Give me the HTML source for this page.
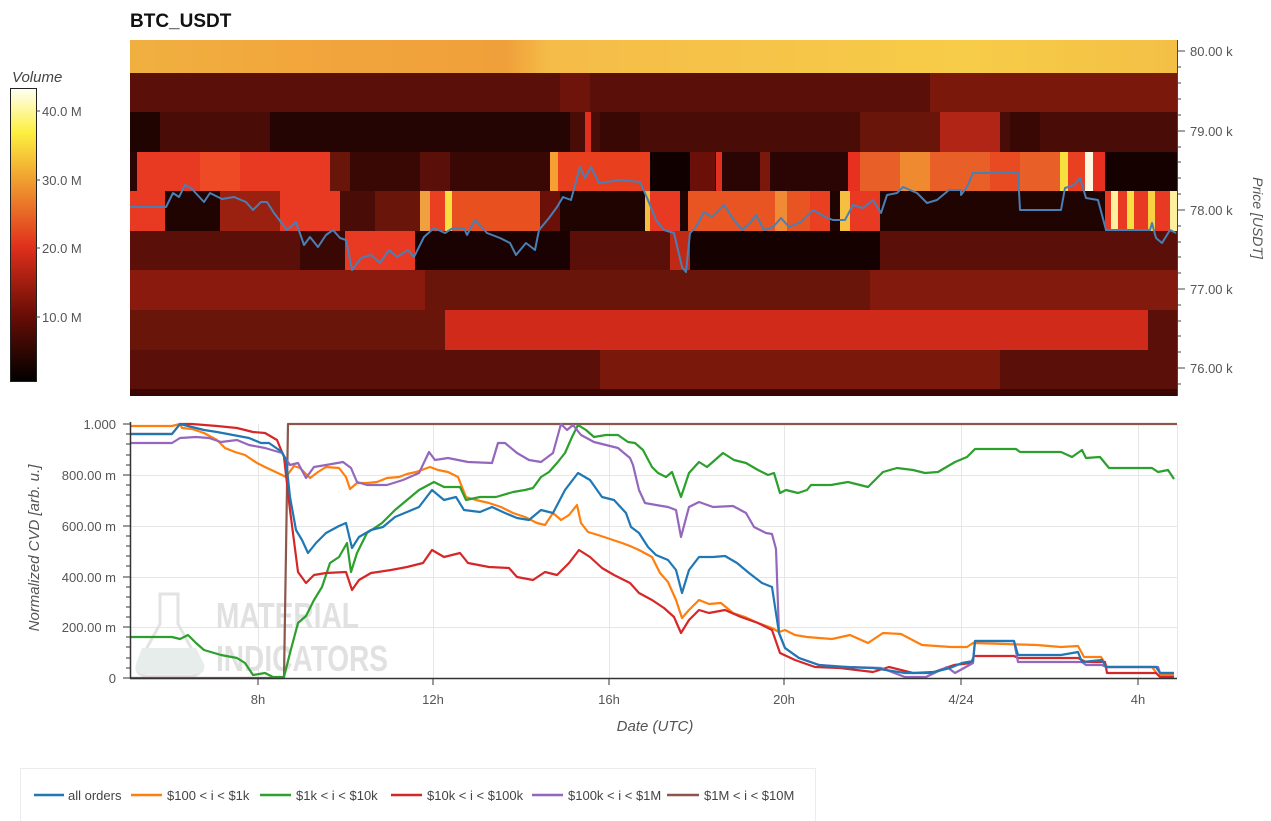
<!DOCTYPE html>
<html><head><meta charset="utf-8"><style>
html,body{margin:0;padding:0;background:#fff;}
svg{display:block;font-family:"Liberation Sans",sans-serif;}
</style></head><body>
<svg width="1271" height="821" viewBox="0 0 1271 821" xmlns="http://www.w3.org/2000/svg">
<defs>
<linearGradient id="cb" x1="0" y1="1" x2="0" y2="0">
<stop offset="0" stop-color="#000"/>
<stop offset="0.23" stop-color="#6a0e06"/>
<stop offset="0.46" stop-color="#e0301c"/>
<stop offset="0.69" stop-color="#f0a030"/>
<stop offset="0.85" stop-color="#fcf040"/>
<stop offset="1" stop-color="#fffff5"/>
</linearGradient>
<linearGradient id="b0" x1="0" y1="0" x2="1" y2="0">
<stop offset="0" stop-color="#f0b040"/>
<stop offset="0.18" stop-color="#f2a53c"/>
<stop offset="0.36" stop-color="#f0a03a"/>
<stop offset="0.4" stop-color="#f5bc48"/>
<stop offset="0.8" stop-color="#f7cc48"/>
<stop offset="1" stop-color="#f3c045"/>
</linearGradient>
</defs>
<text x="130" y="27" font-size="19" font-weight="bold" fill="#111">BTC_USDT</text>

<!-- heatmap -->
<rect x="130" y="40" width="1047" height="33" fill="url(#b0)"/>
<rect x="130" y="73" width="1047" height="39" fill="#5a0f08"/>
<rect x="930" y="73" width="247" height="39" fill="#7a180c"/>
<rect x="560" y="73" width="30" height="39" fill="#6e140a"/>
<rect x="130" y="112" width="1047" height="40" fill="#4a0c06"/>
<rect x="130" y="112" width="30" height="40" fill="#200402"/>
<rect x="270" y="112" width="300" height="40" fill="#250503"/>
<rect x="585" y="112" width="6" height="40" fill="#e03020"/>
<rect x="600" y="112" width="40" height="40" fill="#3a0804"/>
<rect x="860" y="112" width="80" height="40" fill="#6a150a"/>
<rect x="940" y="112" width="60" height="40" fill="#b02515"/>
<rect x="1010" y="112" width="30" height="40" fill="#3a0804"/>
<rect x="130" y="152" width="1047" height="39" fill="#2a0503"/>
<rect x="137" y="152" width="193" height="39" fill="#e83a22"/>
<rect x="200" y="152" width="40" height="39" fill="#ee4a26"/>
<rect x="330" y="152" width="20" height="39" fill="#6a150a"/>
<rect x="350" y="152" width="200" height="39" fill="#3a0804"/>
<rect x="420" y="152" width="30" height="39" fill="#5a0f08"/>
<rect x="550" y="152" width="8" height="39" fill="#f5a030"/>
<rect x="558" y="152" width="92" height="39" fill="#e8401e"/>
<rect x="650" y="152" width="40" height="39" fill="#100000"/>
<rect x="690" y="152" width="25" height="39" fill="#6a1008"/>
<rect x="716" y="152" width="6" height="39" fill="#e03020"/>
<rect x="760" y="152" width="10" height="39" fill="#7a180c"/>
<rect x="848" y="152" width="12" height="39" fill="#e83020"/>
<rect x="860" y="152" width="200" height="39" fill="#e86028"/>
<rect x="900" y="152" width="30" height="39" fill="#f08a30"/>
<rect x="990" y="152" width="30" height="39" fill="#e84a22"/>
<rect x="1060" y="152" width="8" height="39" fill="#f8e040"/>
<rect x="1068" y="152" width="17" height="39" fill="#e84020"/>
<rect x="1085" y="152" width="8" height="39" fill="#fff8e0"/>
<rect x="1093" y="152" width="12" height="39" fill="#e83020"/>
<rect x="1105" y="152" width="72" height="39" fill="#150200"/>
<rect x="130" y="191" width="1047" height="40" fill="#200402"/>
<rect x="130" y="191" width="35" height="40" fill="#e83a22"/>
<rect x="220" y="191" width="60" height="40" fill="#9a2010"/>
<rect x="280" y="191" width="60" height="40" fill="#e83a22"/>
<rect x="340" y="191" width="35" height="40" fill="#4a0c06"/>
<rect x="375" y="191" width="45" height="40" fill="#6a150a"/>
<rect x="420" y="191" width="10" height="40" fill="#f0a040"/>
<rect x="430" y="191" width="15" height="40" fill="#e84020"/>
<rect x="445" y="191" width="7" height="40" fill="#f8e040"/>
<rect x="452" y="191" width="88" height="40" fill="#e8501f"/>
<rect x="540" y="191" width="20" height="40" fill="#6a1008"/>
<rect x="645" y="191" width="5" height="40" fill="#f0c040"/>
<rect x="650" y="191" width="30" height="40" fill="#e83a22"/>
<rect x="688" y="191" width="122" height="40" fill="#e85522"/>
<rect x="775" y="191" width="12" height="40" fill="#f08a34"/>
<rect x="810" y="191" width="20" height="40" fill="#e84020"/>
<rect x="840" y="191" width="10" height="40" fill="#f5c040"/>
<rect x="850" y="191" width="30" height="40" fill="#e83a22"/>
<rect x="1105" y="191" width="72" height="40" fill="#e83a22"/>
<rect x="1111" y="191" width="7" height="40" fill="#fff0a0"/>
<rect x="1127" y="191" width="7" height="40" fill="#f8e040"/>
<rect x="1148" y="191" width="7" height="40" fill="#f8d040"/>
<rect x="1170" y="191" width="7" height="40" fill="#fff0a0"/>
<rect x="130" y="231" width="1047" height="39" fill="#5a0f08"/>
<rect x="300" y="231" width="45" height="39" fill="#3a0804"/>
<rect x="345" y="231" width="70" height="39" fill="#e83a22"/>
<rect x="415" y="231" width="155" height="39" fill="#1a0202"/>
<rect x="670" y="231" width="20" height="39" fill="#c02a15"/>
<rect x="690" y="231" width="190" height="39" fill="#150100"/>
<rect x="130" y="270" width="1047" height="40" fill="#6a150a"/>
<rect x="130" y="270" width="295" height="40" fill="#8a1a0e"/>
<rect x="870" y="270" width="307" height="40" fill="#821a0e"/>
<rect x="130" y="310" width="1047" height="40" fill="#6a150a"/>
<rect x="445" y="310" width="703" height="40" fill="#d02a1a"/>
<rect x="1148" y="310" width="29" height="40" fill="#5a0f08"/>
<rect x="130" y="350" width="1047" height="39" fill="#5a0f08"/>
<rect x="600" y="350" width="400" height="39" fill="#7a180c"/>
<rect x="130" y="389" width="1047" height="7" fill="#3a0603"/>

<polyline fill="none" stroke="#4a7fb5" stroke-width="2" stroke-linejoin="round" points="130,207 166,207 173,193 179,197 185,185 191,188 204,202 210,193 222,199 234,197 246,202 253,210 261,202 267,202 274,213 287,230 296,222 304,245 310,237 318,247 326,235 333,230 340,238 346,240 352,270 361,258 371,255 380,263 389,250 397,257 408,250 414,257 424,237 434,228 445,233 453,228 464,228 467,235 475,220 487,233 500,238 510,243 516,255 526,243 535,250 539,230 549,218 557,207 563,197 571,200 580,167 585,178 591,167 599,183 607,182 620,180 640,182 648,200 656,220 664,230 674,233 682,267 686,272 690,233 696,227 704,212 712,217 724,205 734,220 742,230 750,223 756,215 764,230 773,227 781,218 789,227 801,222 813,210 825,217 833,220 845,220 853,205 863,208 873,200 881,213 887,195 897,193 903,187 917,193 927,203 937,200 949,190 961,190 961,195 967,187 973,173 1018,173 1020,210 1061,210 1065,188 1074,185 1080,178 1086,198 1098,200 1106,230 1150,230 1152,223 1156,238 1162,243 1170,230 1176,233"/>

<line x1="1177.5" y1="40" x2="1177.5" y2="396" stroke="#444" stroke-width="1"/>
<g stroke="#444" stroke-width="1">
<line x1="1177" y1="51" x2="1185" y2="51"/><line x1="1177" y1="131" x2="1185" y2="131"/><line x1="1177" y1="210" x2="1185" y2="210"/><line x1="1177" y1="289" x2="1185" y2="289"/><line x1="1177" y1="368" x2="1185" y2="368"/>
<line x1="1177" y1="67" x2="1181" y2="67"/><line x1="1177" y1="83" x2="1181" y2="83"/><line x1="1177" y1="99" x2="1181" y2="99"/><line x1="1177" y1="115" x2="1181" y2="115"/>
<line x1="1177" y1="147" x2="1181" y2="147"/><line x1="1177" y1="162" x2="1181" y2="162"/><line x1="1177" y1="178" x2="1181" y2="178"/><line x1="1177" y1="194" x2="1181" y2="194"/>
<line x1="1177" y1="226" x2="1181" y2="226"/><line x1="1177" y1="242" x2="1181" y2="242"/><line x1="1177" y1="257" x2="1181" y2="257"/><line x1="1177" y1="273" x2="1181" y2="273"/>
<line x1="1177" y1="305" x2="1181" y2="305"/><line x1="1177" y1="321" x2="1181" y2="321"/><line x1="1177" y1="336" x2="1181" y2="336"/><line x1="1177" y1="352" x2="1181" y2="352"/>
<line x1="1177" y1="384" x2="1181" y2="384"/>
</g>
<g font-size="13" fill="#555">
<text x="1190" y="56">80.00 k</text><text x="1190" y="136">79.00 k</text><text x="1190" y="215">78.00 k</text><text x="1190" y="294">77.00 k</text><text x="1190" y="373">76.00 k</text>
</g>
<text transform="translate(1253,218) rotate(90)" text-anchor="middle" font-size="14" font-style="italic" fill="#555">Price [USDT]</text>

<text x="12" y="82" font-size="15" font-style="italic" fill="#444">Volume</text>
<rect x="10.5" y="88.5" width="26" height="293" fill="url(#cb)" stroke="#222" stroke-width="1"/>
<g stroke="#444"><line x1="36" y1="111" x2="40" y2="111"/><line x1="36" y1="180" x2="40" y2="180"/><line x1="36" y1="248" x2="40" y2="248"/><line x1="36" y1="317" x2="40" y2="317"/></g>
<g font-size="13" fill="#555"><text x="42" y="116">40.0 M</text><text x="42" y="185">30.0 M</text><text x="42" y="253">20.0 M</text><text x="42" y="322">10.0 M</text></g>

<g stroke="#e6e6e6" stroke-width="1">
<line x1="130" y1="475.5" x2="1177" y2="475.5"/><line x1="130" y1="526.5" x2="1177" y2="526.5"/><line x1="130" y1="577.5" x2="1177" y2="577.5"/><line x1="130" y1="627.5" x2="1177" y2="627.5"/>
<line x1="258.5" y1="424" x2="258.5" y2="678"/><line x1="433.5" y1="424" x2="433.5" y2="678"/><line x1="609.5" y1="424" x2="609.5" y2="678"/><line x1="784.5" y1="424" x2="784.5" y2="678"/><line x1="961.5" y1="424" x2="961.5" y2="678"/><line x1="1138.5" y1="424" x2="1138.5" y2="678"/>
<line x1="1177.5" y1="424" x2="1177.5" y2="678"/>
</g>
<g fill="#dedede" opacity="0.9">
<path d="M160 594 h18 v30 l22 40 q4 10 -8 12 h-46 q-12 -2 -8 -12 l22 -40 z" fill="none" stroke="#e0e0e0" stroke-width="3"/>
<path d="M142 648 h54 l8 16 q2 10 -8 10 h-52 q-10 0 -8 -10 z" fill="#e4ece8"/>
<text x="216" y="628" font-size="36" font-weight="bold" transform="translate(216,0) scale(0.78,1) translate(-216,0)">MATERIAL</text>
<text x="216" y="671" font-size="36" font-weight="bold" transform="translate(216,0) scale(0.78,1) translate(-216,0)">INDICATORS</text>
</g>

<g fill="none" stroke-width="2.2" stroke-linejoin="round">
<polyline stroke="#8c564b" points="131,678 284,678 288,424 1177,424"/>
<polyline stroke="#ff7f0e" points="131,426 172,426 180,424 182,428 192,429 204,433 217,440 225,448 235,452 245,455 257,463 265,467 282,475 286,477 294,466 300,468 310,478 318,472 326,467 339,468 346,477 350,489 357,483 367,483 377,482 387,478 399,477 407,474 416,472 430,467 438,470 448,472 458,477 466,497 476,500 489,503 501,507 513,513 525,517 537,523 545,525 553,513 561,520 569,515 577,505 581,523 588,532 598,535 610,539 622,543 630,546 639,550 652,557 660,573 668,582 676,600 682,618 689,610 699,600 709,604 721,603 733,613 745,617 758,623 772,628 779,632 785,630 795,635 807,637 819,638 832,639 850,635 868,643 883,633 901,634 922,645 951,647 967,647 973,643 1037,645 1061,647 1078,646 1084,657 1101,657 1107,667 1152,667 1158,675 1174,675"/>
<polyline stroke="#2ca02c" points="131,637 172,637 180,639 188,635 196,643 204,650 221,655 237,658 245,663 253,675 265,673 273,677 284,677 290,653 298,623 306,616 314,600 322,587 330,563 339,557 347,543 351,572 357,553 367,533 382,523 395,510 407,500 419,490 434,482 444,487 460,487 466,500 480,497 496,497 513,492 525,490 533,488 541,477 549,472 557,463 565,453 572,437 578,425 586,430 594,437 606,435 618,435 628,442 635,443 643,450 652,467 658,473 666,477 672,472 681,497 689,473 699,462 707,467 723,453 734,460 746,463 758,470 768,475 774,473 780,493 786,490 798,493 807,490 811,485 831,485 848,482 868,487 883,472 897,468 913,470 925,473 938,472 955,462 967,457 975,449 1016,449 1020,452 1061,452 1072,457 1082,450 1086,458 1100,457 1109,468 1152,468 1158,472 1168,470 1174,479"/>
<polyline stroke="#d62728" points="131,434 172,434 180,424 192,424 217,426 237,428 253,432 265,433 277,440 284,457 290,510 298,572 306,583 314,575 326,573 346,572 352,590 359,580 371,573 391,570 407,567 423,563 432,550 444,557 460,553 468,563 489,567 509,568 517,577 533,580 545,572 557,575 569,563 579,550 590,557 602,568 614,575 630,583 639,593 652,600 664,608 674,617 681,633 689,620 699,610 709,613 725,610 741,617 758,623 772,630 780,653 795,660 815,667 840,668 873,672 889,667 913,673 934,672 954,665 971,663 974,656 1014,656 1018,658 1078,658 1086,662 1105,662 1107,673 1156,673 1160,677 1174,677"/>
<polyline stroke="#9467bd" points="131,443 172,443 180,438 196,437 209,438 221,442 237,440 249,445 265,448 282,453 290,465 298,463 306,478 314,467 326,465 343,462 351,468 357,482 367,485 387,485 403,480 419,473 429,452 435,460 448,458 468,462 492,463 498,443 505,443 517,453 529,460 541,462 553,453 561,424 567,430 573,425 581,435 594,442 606,445 618,448 630,458 633,465 639,490 645,503 656,505 668,507 676,510 681,537 689,507 699,502 713,507 733,506 746,513 754,527 766,533 772,534 776,549 779,633 785,648 799,658 819,665 849,667 881,668 905,677 926,677 947,667 955,673 973,663 975,641 1014,641 1018,662 1082,662 1086,665 1102,665 1106,667 1158,667 1160,673 1174,673"/>
<polyline stroke="#1f77b4" points="131,434 172,434 180,424 192,427 204,430 217,432 233,435 249,438 261,443 269,443 282,452 286,460 290,497 296,530 302,540 308,553 316,543 326,533 339,526 346,523 352,548 359,537 371,530 383,527 395,517 407,512 419,507 432,490 444,500 456,497 464,510 480,512 492,507 505,513 517,518 529,520 541,510 553,513 565,490 578,473 590,480 602,497 614,500 626,513 631,527 639,533 648,547 656,555 668,560 676,570 682,593 689,570 699,557 713,557 725,556 737,563 749,573 762,583 772,587 779,633 785,648 799,658 819,665 840,667 873,668 905,673 930,673 950,668 962,663 973,661 975,641 1014,641 1018,655 1061,655 1078,652 1082,662 1102,660 1106,667 1156,667 1160,673 1174,673"/>
</g>

<line x1="130.5" y1="422" x2="130.5" y2="679" stroke="#333" stroke-width="1.5"/>
<line x1="130" y1="678.5" x2="1177" y2="678.5" stroke="#333" stroke-width="1.5"/>
<g stroke="#333" stroke-width="1">
<line x1="123" y1="424" x2="130" y2="424"/><line x1="123" y1="475" x2="130" y2="475"/><line x1="123" y1="526" x2="130" y2="526"/><line x1="123" y1="577" x2="130" y2="577"/><line x1="123" y1="627" x2="130" y2="627"/><line x1="123" y1="678" x2="130" y2="678"/>
<line x1="126" y1="434" x2="130" y2="434"/><line x1="126" y1="444" x2="130" y2="444"/><line x1="126" y1="455" x2="130" y2="455"/><line x1="126" y1="465" x2="130" y2="465"/>
<line x1="126" y1="485" x2="130" y2="485"/><line x1="126" y1="495" x2="130" y2="495"/><line x1="126" y1="506" x2="130" y2="506"/><line x1="126" y1="516" x2="130" y2="516"/>
<line x1="126" y1="536" x2="130" y2="536"/><line x1="126" y1="546" x2="130" y2="546"/><line x1="126" y1="556" x2="130" y2="556"/><line x1="126" y1="566" x2="130" y2="566"/>
<line x1="126" y1="587" x2="130" y2="587"/><line x1="126" y1="597" x2="130" y2="597"/><line x1="126" y1="607" x2="130" y2="607"/><line x1="126" y1="617" x2="130" y2="617"/>
<line x1="126" y1="637" x2="130" y2="637"/><line x1="126" y1="647" x2="130" y2="647"/><line x1="126" y1="658" x2="130" y2="658"/><line x1="126" y1="668" x2="130" y2="668"/>
<line x1="258" y1="678" x2="258" y2="685"/><line x1="433" y1="678" x2="433" y2="685"/><line x1="609" y1="678" x2="609" y2="685"/><line x1="784" y1="678" x2="784" y2="685"/><line x1="961" y1="678" x2="961" y2="685"/><line x1="1138" y1="678" x2="1138" y2="685"/>
</g>
<g font-size="13" fill="#555" text-anchor="end">
<text x="116" y="429">1.000</text><text x="116" y="480">800.00 m</text><text x="116" y="531">600.00 m</text><text x="116" y="582">400.00 m</text><text x="116" y="632">200.00 m</text><text x="116" y="683">0</text>
</g>
<g font-size="13" fill="#555" text-anchor="middle">
<text x="258" y="704">8h</text><text x="433" y="704">12h</text><text x="609" y="704">16h</text><text x="784" y="704">20h</text><text x="961" y="704">4/24</text><text x="1138" y="704">4h</text>
</g>
<text x="655" y="731" font-size="15" font-style="italic" fill="#555" text-anchor="middle">Date (UTC)</text>
<text transform="translate(39,548) rotate(-90)" text-anchor="middle" font-size="15" font-style="italic" fill="#555">Normalized CVD [arb. u.]</text>

<rect x="20.5" y="768.5" width="795" height="60" fill="#fff" stroke="#ececec"/>
<g stroke-width="2.5">
<line x1="34" y1="795" x2="64" y2="795" stroke="#1f77b4"/>
<line x1="131" y1="795" x2="162" y2="795" stroke="#ff7f0e"/>
<line x1="260" y1="795" x2="291" y2="795" stroke="#2ca02c"/>
<line x1="391" y1="795" x2="422" y2="795" stroke="#d62728"/>
<line x1="532" y1="795" x2="563" y2="795" stroke="#9467bd"/>
<line x1="667" y1="795" x2="699" y2="795" stroke="#8c564b"/>
</g>
<g font-size="13" fill="#444">
<text x="68" y="800">all orders</text>
<text x="167" y="800">$100 &lt; i &lt; $1k</text>
<text x="296" y="800">$1k &lt; i &lt; $10k</text>
<text x="427" y="800">$10k &lt; i &lt; $100k</text>
<text x="568" y="800">$100k &lt; i &lt; $1M</text>
<text x="704" y="800">$1M &lt; i &lt; $10M</text>
</g>
</svg>
</body></html>
